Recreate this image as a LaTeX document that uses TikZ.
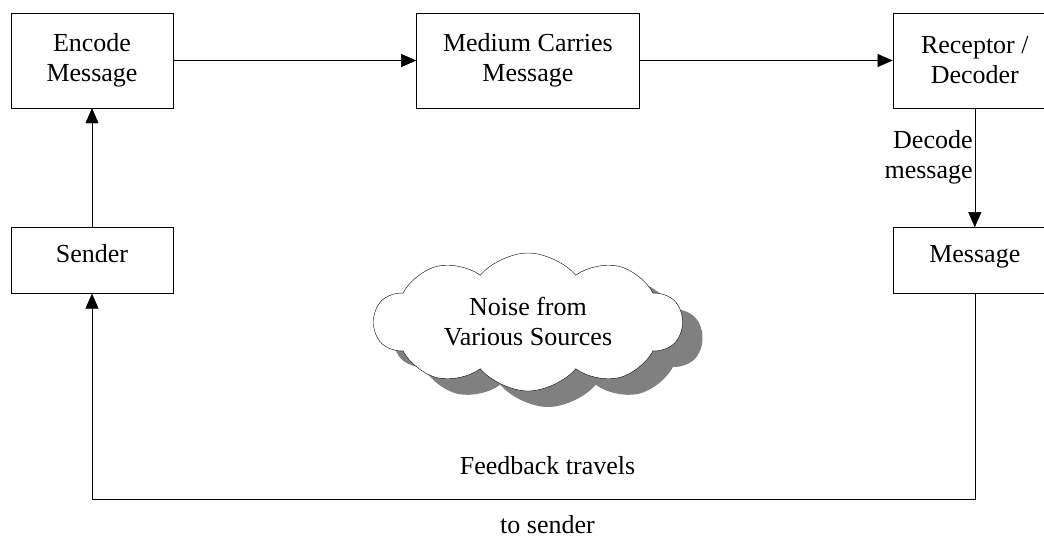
\documentclass[tikz,border=0pt]{standalone}
\usepackage{fontspec}
\setmainfont{Liberation Serif}
\usetikzlibrary{arrows.meta,positioning,shapes.symbols,shadows}
\tikzset{
    >={Triangle[length=15pt,width=13pt]},line width=1.5pt,
    every node/.style={font=\fontsize{26}{30}\selectfont},
    el/.style = {inner sep=2pt, align=right}
}

\begin{document}
\begin{tikzpicture}[x=1pt, y=1pt,
  mybox/.style={draw, align=center, inner sep=4pt},
  bigbox/.style={mybox, minimum height=95pt},
  smallbox/.style={mybox, minimum height=66pt, text depth=13pt},
  noise/.style={cloud, draw, fill=white, align=center, cloud puffs=10, cloud puff arc=100,
    cloud ignores aspect, inner sep=0pt, minimum width=308pt, minimum height=138pt,
    drop shadow={shadow xshift=20pt, shadow yshift=-16pt, fill=black!50, opacity=1}}
]
\useasboundingbox (0,0) rectangle (1044,-538);
\clip (0,0) rectangle (1044,-538);

% Nodes
\node[bigbox, minimum width=162pt] (enc) at (92,-60.5) {Encode\\Message};
\node[bigbox, minimum width=223pt, right=243pt of enc] (med) {Medium Carries\\Message};
\node[bigbox, minimum width=164pt, right=253pt of med] (rec) {Receptor /\\Decoder};
\node[smallbox, minimum width=162pt, below=119pt of enc] (snd) {Sender};
\node[smallbox, minimum width=164pt, below=119pt of rec] (msg) {Message};
\node[noise] (nse) at (528,-322) {Noise from\\Various Sources};

% Paths
\draw[->] (snd) -- (enc);
\draw[->] (enc) -- (med);
\draw[->] (med) -- (rec);
\draw[->] (rec) -- node[el, left, pos=0.41] {Decode\\message} (msg);
\draw[->] (msg.south) -- ++(0,-206)
  -| node[pos=0.242, above=25pt, inner sep=0pt] {Feedback travels}
     node[pos=0.242, below=16pt, inner sep=0pt] {to sender} (snd.south);

\end{tikzpicture}
\end{document}
